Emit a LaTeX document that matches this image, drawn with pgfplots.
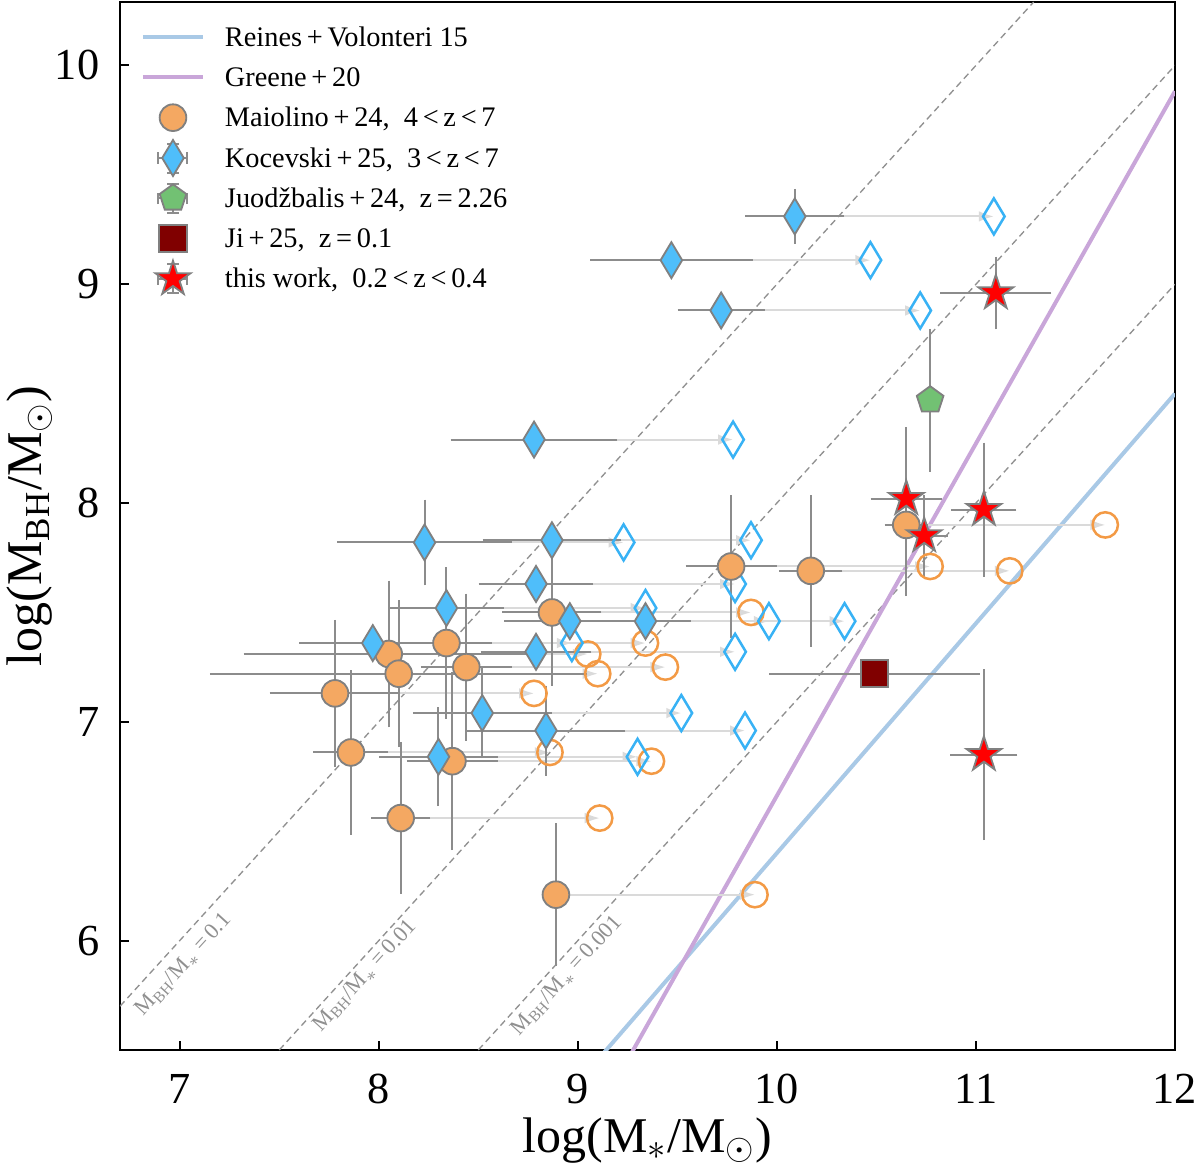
\documentclass[border=0pt]{standalone}
\usepackage{fontspec}
\setmainfont{Liberation Serif}
\usepackage{pgfplots}
\pgfplotsset{compat=1.18}
\usepackage{pgfplotstable}
\usetikzlibrary{arrows.meta}

\definecolor{mfill}{HTML}{F4A862}
\definecolor{mopen}{HTML}{F39A45}
\definecolor{kfill}{HTML}{4FBEFA}
\definecolor{kopen}{HTML}{38B2F5}
\definecolor{jfill}{HTML}{72C173}
\definecolor{jifill}{HTML}{800000}
\definecolor{edgegray}{HTML}{808080}
\definecolor{errgray}{HTML}{8C8C8C}
\definecolor{rvblue}{HTML}{A9C9E6}
\definecolor{grpurple}{HTML}{C9A6D9}
\definecolor{guidegray}{HTML}{909090}
\definecolor{arrowgray}{HTML}{DADADA}

% thin diamonds (filled and open) and a filled five-pointed star
\pgfdeclareplotmark{tdiamond*}{%
  \pgfpathmoveto{\pgfqpoint{0pt}{\pgfplotmarksize}}%
  \pgfpathlineto{\pgfqpoint{.6\pgfplotmarksize}{0pt}}%
  \pgfpathlineto{\pgfqpoint{0pt}{-\pgfplotmarksize}}%
  \pgfpathlineto{\pgfqpoint{-.6\pgfplotmarksize}{0pt}}%
  \pgfpathclose
  \pgfusepathqfillstroke}
\pgfdeclareplotmark{tdiamond}{%
  \pgfpathmoveto{\pgfqpoint{0pt}{\pgfplotmarksize}}%
  \pgfpathlineto{\pgfqpoint{.6\pgfplotmarksize}{0pt}}%
  \pgfpathlineto{\pgfqpoint{0pt}{-\pgfplotmarksize}}%
  \pgfpathlineto{\pgfqpoint{-.6\pgfplotmarksize}{0pt}}%
  \pgfpathclose
  \pgfusepathqstroke}
\pgfdeclareplotmark{fstar}{%
  \pgfpathmoveto{\pgfpointpolar{90}{\pgfplotmarksize}}%
  \pgfpathlineto{\pgfpointpolar{126}{0.382\pgfplotmarksize}}%
  \pgfpathlineto{\pgfpointpolar{162}{\pgfplotmarksize}}%
  \pgfpathlineto{\pgfpointpolar{198}{0.382\pgfplotmarksize}}%
  \pgfpathlineto{\pgfpointpolar{234}{\pgfplotmarksize}}%
  \pgfpathlineto{\pgfpointpolar{270}{0.382\pgfplotmarksize}}%
  \pgfpathlineto{\pgfpointpolar{306}{\pgfplotmarksize}}%
  \pgfpathlineto{\pgfpointpolar{342}{0.382\pgfplotmarksize}}%
  \pgfpathlineto{\pgfpointpolar{18}{\pgfplotmarksize}}%
  \pgfpathlineto{\pgfpointpolar{54}{0.382\pgfplotmarksize}}%
  \pgfpathclose
  \pgfusepathqfillstroke}

% legend symbol with short error bars behind the marker
\pgfplotsset{
  errlegend/.style={
    legend image code/.code={%
      \path[draw=none, fill=none] (0pt,-1pt) rectangle (18pt,1pt);
      \begin{scope}[overlay]
        \draw[errgray, line width=0.6pt]
          (4.65pt,0.7pt) -- (13.35pt,0.7pt)
          (4.65pt,-1pt) -- (4.65pt,2.4pt)
          (13.35pt,-1pt) -- (13.35pt,2.4pt)
          (9pt,-3.65pt) -- (9pt,5.05pt)
          (7.3pt,-3.65pt) -- (10.7pt,-3.65pt)
          (7.3pt,5.05pt) -- (10.7pt,5.05pt);
        \draw[mark repeat=2, mark phase=2, ##1]
          plot coordinates {(0pt,0.7pt) (9pt,0.7pt) (18pt,0.7pt)};
      \end{scope}
    },
  },
}

% x y ex ey | xs: stellar mass after the shift, u: length of the shift arrow
\pgfplotstableread{
x     y     ex    ey    xs     u
7.78  7.13  0.30  0.31  8.78   1.0
7.86  6.86  0.16  0.35  8.86   1.0
8.05  7.31  0.70  0.31  9.05   1.0
8.10  7.22  0.92  0.31  9.10   1.0
8.11  6.56  0.12  0.32  9.11   1.0
8.34  7.36  0.20  0.32  9.34   1.0
8.37  6.82  0.20  0.38  9.37   1.0
8.44  7.25  0.20  0.31  9.44   1.0
8.87  7.50  0.22  0.31  9.87   1.0
8.89  6.21  0.00  0.30  9.89   1.0
9.77  7.71  0.20  0.30  10.77  1.0
10.17 7.69  0.13  0.32  11.17  1.0
10.65 7.90  0.08  0.30  11.65  1.0
}\maiolino

\pgfplotstableread{
x     y     ex    ey    xs     u
10.09 9.31  0.22  0.10  11.09  1.0
9.47  9.11  0.38  0.00  10.47  1.0
9.72  8.88  0.19  0.00  10.72  1.0
8.78  8.29  0.39  0.00  9.78   1.0
8.23  7.82  0.41  0.17  9.23   1.0
8.87  7.83  0.32  0.00  9.87   1.0
8.79  7.63  0.26  0.00  9.79   1.0
8.34  7.52  0.26  0.12  9.34   1.0
7.97  7.36  0.34  0.00  8.97   1.0
8.96  7.46  0.30  0.00  9.96   1.0
9.34  7.46  0.20  0.00  10.34  1.0
8.79  7.32  0.25  0.00  9.79   1.0
8.52  7.04  0.32  0.18  9.52   1.0
8.84  6.96  0.37  0.18  9.84   1.0
8.30  6.84  0.27  0.20  9.30   1.0
}\kocevski

\pgfplotstableread{
x     y     ex     ey
11.10 8.96  0.25   0.14
10.65 8.02  0.15   0.30
10.74 7.85  0.09   0.16
11.04 7.97  0.135  0.28
11.04 6.85  0.14   0.365
}\thiswork

\pgfplotstableread{
x     y     ey
10.77 8.47  0.30
}\juod

\pgfplotstableread{
x     y     ex
10.49 7.22  0.50
}\ji

\begin{document}
\begin{tikzpicture}
\begin{axis}[
  at={(0,0)}, anchor=south west,
  scale only axis, width=316.5pt, height=314.4pt,
  xmin=6.7, xmax=12, ymin=5.5, ymax=10.29,
  xtick={7,8,9,10,11,12}, ytick={6,7,8,9,10},
  minor tick num=0,
  tick align=inside, xtick pos=bottom, ytick pos=left,
  major tick length=2.6pt,
  every tick/.style={black, line width=0.6pt},
  axis line style={line width=0.6pt},
  tick label style={font=\fontsize{13.3}{16}\selectfont},
  /pgf/number format/assume math mode=true,
  xticklabel style={inner sep=0pt, anchor=base, yshift=-15.9pt},
  yticklabel style={inner sep=0pt, anchor=east, xshift=-6pt},
  label style={font=\fontsize{15}{18}\selectfont},
  xlabel={log(M\textsubscript{$*$}/M\textsubscript{$\odot$})},
  ylabel={log(M\textsubscript{BH}/M\textsubscript{$\odot$})},
  xlabel style={at={([yshift=-30.6pt]axis description cs:0.5,0)}, anchor=base},
  ylabel style={at={([xshift=-23.4pt]axis description cs:0,0.5)}, anchor=base},
  legend style={
    at={(axis description cs:0,1)}, anchor=north west,
    xshift=6.9pt, yshift=-7.2pt,
    draw=none, fill=none, inner sep=0pt, outer sep=0pt,
    font=\fontsize{8.5}{10}\selectfont,
    row sep=4.1pt, column sep=6.6pt,
    nodes={inner sep=0pt, text height=6pt, text depth=2pt},
  },
  legend cell align=left,
  legend image code/.code={%
    \path[draw=none, fill=none] (0pt,-1pt) rectangle (18pt,1pt);
    \draw[overlay, mark repeat=2, mark phase=2, #1]
      plot coordinates {(0pt,0.7pt) (9pt,0.7pt) (18pt,0.7pt)};
  },
  error bars/error bar style={line width=0.6pt, draw=errgray},
  error bars/error mark options={line width=0.6pt, draw=errgray, mark size=1.7pt},
]

% constant mass-ratio guides
\addplot[forget plot, guidegray, line width=0.4pt, dash pattern=on 2pt off 1.3pt]
  coordinates {(6.7,5.7) (11.29,10.29)};
\addplot[forget plot, guidegray, line width=0.4pt, dash pattern=on 2pt off 1.3pt]
  coordinates {(7.5,5.5) (12,10)};
\addplot[forget plot, guidegray, line width=0.4pt, dash pattern=on 2pt off 1.3pt]
  coordinates {(8.5,5.5) (12,9)};

% local scaling relations
\addplot[rvblue, line width=1.2pt] coordinates {(9.05,5.4025) (12,8.5)};
\addlegendentry{Reines\,+\,Volonteri 15}
\addplot[grpurple, line width=1.2pt] coordinates {(9.2,5.374) (12,9.882)};
\addlegendentry{Greene\,+\,20}

% shifts in stellar mass
\addplot[forget plot, arrowgray, line width=0.6pt, quiver={u=\thisrow{u}, v=0},
  -{Latex[length=4.5pt, width=3.2pt]}] table[x=x, y=y] {\maiolino};
\addplot[forget plot, arrowgray, line width=0.6pt, quiver={u=\thisrow{u}, v=0},
  -{Latex[length=4.5pt, width=3.2pt]}] table[x=x, y=y] {\kocevski};

% shifted positions
\addplot[forget plot, only marks, mark=o, mark size=3.8pt,
  mark options={draw=mopen, line width=0.75pt}] table[x=xs, y=y] {\maiolino};
\addplot[forget plot, only marks, mark=tdiamond, mark size=5.4pt,
  mark options={draw=kopen, line width=0.75pt}] table[x=xs, y=y] {\kocevski};

% samples with uncertainties
\addplot[only marks, mark=*, mark size=4pt,
  mark options={fill=mfill, draw=edgegray, line width=0.55pt},
  error bars/.cd, x dir=both, x explicit, y dir=both, y explicit]
  table[x=x, y=y, x error=ex, y error=ey] {\maiolino};
\addlegendentry{Maiolino\,+\,24,\ \ 4\,<\,z\,<\,7}

\addplot[errlegend, only marks, mark=tdiamond*, mark size=5.4pt,
  mark options={fill=kfill, draw=edgegray, line width=0.55pt},
  error bars/.cd, x dir=both, x explicit, y dir=both, y explicit]
  table[x=x, y=y, x error=ex, y error=ey] {\kocevski};
\addlegendentry{Kocevski\,+\,25,\ \ 3\,<\,z\,<\,7}

\addplot[errlegend, only marks, mark=pentagon*, mark size=4.2pt,
  mark options={fill=jfill, draw=edgegray, line width=0.55pt},
  error bars/.cd, y dir=both, y explicit]
  table[x=x, y=y, y error=ey] {\juod};
\addlegendentry{Juodžbalis\,+\,24,\ \ z\,=\,2.26}

\addplot[only marks, mark=square*, mark size=4.1pt,
  mark options={fill=jifill, draw=edgegray, line width=0.55pt},
  error bars/.cd, x dir=both, x explicit]
  table[x=x, y=y, x error=ex] {\ji};
\addlegendentry{Ji\,+\,25,\ \ z\,=\,0.1}

\addplot[errlegend, only marks, mark=fstar, mark size=5.5pt,
  mark options={fill=red, draw=edgegray, line width=0.55pt},
  error bars/.cd, x dir=both, x explicit, y dir=both, y explicit]
  table[x=x, y=y, x error=ex, y error=ey] {\thiswork};
\addlegendentry{this work,\ \ 0.2\,<\,z\,<\,0.4}

% guide labels
\node[rotate=47.6, text=guidegray, font=\fontsize{6.7}{7.5}\selectfont]
  at (axis cs:7.02,5.89) {M\textsubscript{BH}/M\textsubscript{$*$}\,=\,0.1};
\node[rotate=47.6, text=guidegray, font=\fontsize{6.7}{7.5}\selectfont]
  at (axis cs:7.93,5.84) {M\textsubscript{BH}/M\textsubscript{$*$}\,=\,0.01};
\node[rotate=47.6, text=guidegray, font=\fontsize{6.7}{7.5}\selectfont]
  at (axis cs:8.945,5.84) {M\textsubscript{BH}/M\textsubscript{$*$}\,=\,0.001};
\end{axis}
\pgfresetboundingbox
\useasboundingbox (-36pt,-34.2pt) rectangle (324pt,315pt);
\end{tikzpicture}
\end{document}
